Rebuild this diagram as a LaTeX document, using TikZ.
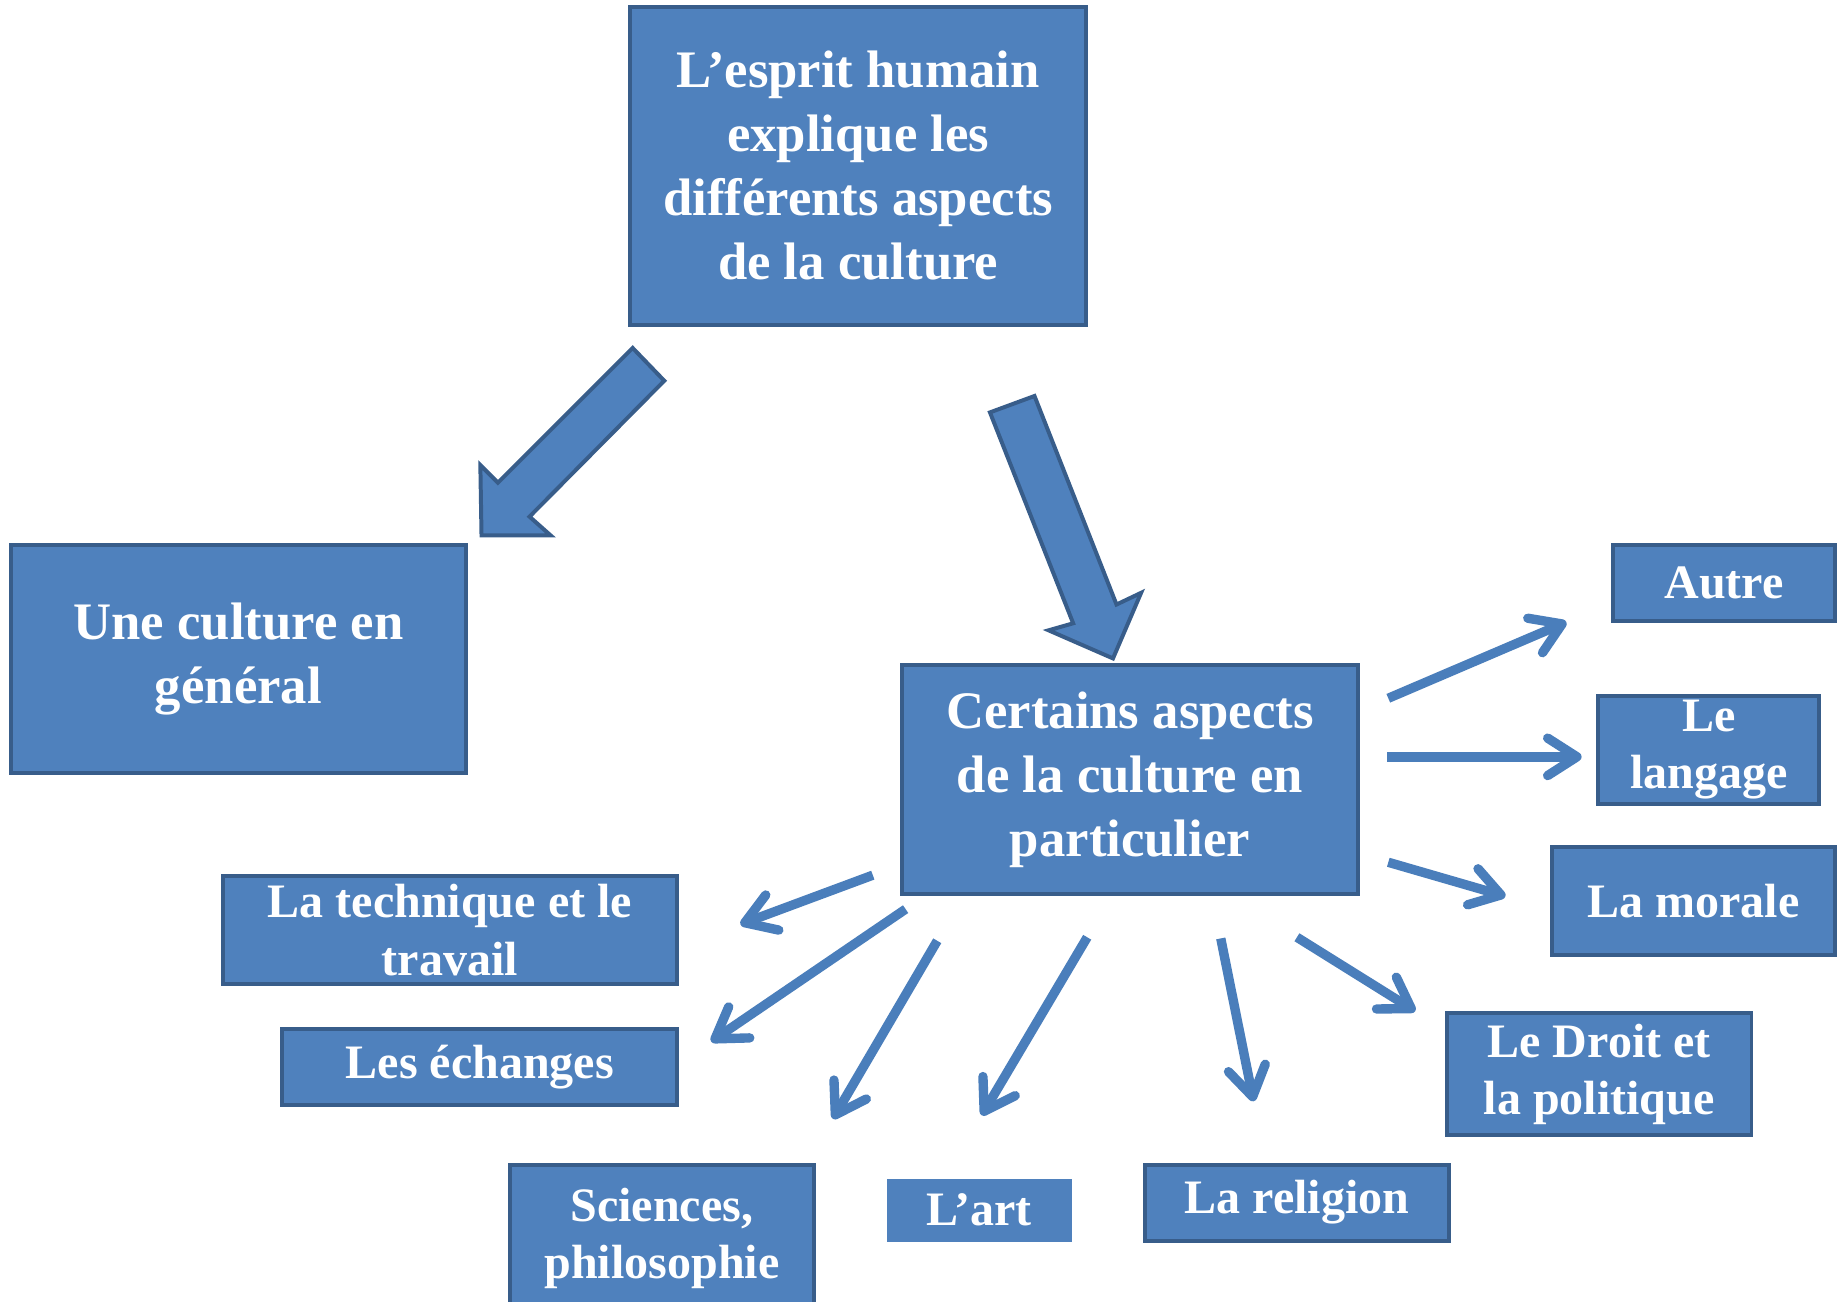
\documentclass[tikz,border=0pt]{standalone}
\usepackage{fontspec}
\setmainfont{Liberation Serif}
\usetikzlibrary{arrows.meta}
\definecolor{boxblue}{HTML}{4F81BD}
\definecolor{edgeblue}{HTML}{385D8A}
\definecolor{arrblue}{HTML}{4A7EBB}
\begin{document}
\begin{tikzpicture}[x=1pt,y=-1pt,
  box/.style={rectangle, fill=boxblue, draw=edgeblue, line width=3.4pt, inner sep=0pt,
    text=white, align=center, font=\fontsize{41}{49}\selectfont\bfseries},
  bigbox/.style={box, font=\fontsize{45}{54.5}\selectfont\bfseries},
  plainbox/.style={box, draw=none},
  blockarrow/.style={fill=boxblue, draw=edgeblue, line width=3.4pt, line join=miter},
  ray/.style={draw=arrblue, line width=8pt, line cap=butt,
    -{Straight Barb[length=25pt, width=32pt, round]}}]
\useasboundingbox (0,0) rectangle (1568,1111);

% main boxes
\node[bigbox, minimum width=389pt, minimum height=271pt] (top) at (732.5,141.5)
  {L’esprit humain\\explique les\\différents aspects\\de la culture};
\node[bigbox, minimum width=389pt, minimum height=195pt] (gen) at (203.5,562.5)
  {Une culture en\\général};
\node[bigbox, minimum width=389pt, minimum height=195pt] (part) at (964.5,665.5)
  {Certains aspects\\de la culture en\\particulier};

% small boxes
\node[box, minimum width=189pt, minimum height=65pt] (autre) at (1471.5,497.5) {Autre};
\node[box, minimum width=189pt, minimum height=92pt] (lang) at (1458.5,640) {Le\\langage};
\node[box, minimum width=241pt, minimum height=92pt] (morale) at (1445.5,769) {La morale};
\node[box, minimum width=260pt, minimum height=104pt] (droit) at (1365,917) {Le Droit et\\la politique};
\node[box, minimum width=260pt, minimum height=65pt] (relig) at (1107,1026.5) {La religion};
\node[plainbox, minimum width=158pt, minimum height=54pt] (art) at (836,1033) {L’art};
\node[box, minimum width=260pt, minimum height=126pt] (sci) at (565,1057) {Sciences,\\philosophie};
\node[box, minimum width=337pt, minimum height=65pt] (ech) at (409.5,910.5) {Les échanges};
\node[box, minimum width=388pt, minimum height=92pt] (tech) at (384,794) {La technique et le\\travail};

% block arrows
\draw[blockarrow] (540,297) -- (567,325) -- (452,441) -- (470,457) -- (411,457)
  -- (410,397) -- (425,412) -- cycle;
\draw[blockarrow] (845,352) -- (883,338) -- (953,516) -- (974,506) -- (950,562)
  -- (895,538) -- (916,532) -- cycle;

% thin arrows
\coordinate (s1) at (1185,596);  \coordinate (e1) at (1337,531);
\coordinate (s2) at (1184,646);  \coordinate (e2) at (1350,646);
\coordinate (s3) at (1185,736);  \coordinate (e3) at (1285,765);
\coordinate (s4) at (1107,800);  \coordinate (e4) at (1208,863);
\coordinate (s5) at (1042,801);  \coordinate (e5) at (1070,940);
\coordinate (s6) at (928,800);   \coordinate (e6) at (838,952);
\coordinate (s7) at (800,803);   \coordinate (e7) at (711,955);
\coordinate (s8) at (773,776);   \coordinate (e8) at (607,889);
\coordinate (s9) at (745,747);   \coordinate (e9) at (632,789);
\foreach \i in {1,...,9} { \draw[ray] (s\i) -- (e\i); }
\end{tikzpicture}
\end{document}
